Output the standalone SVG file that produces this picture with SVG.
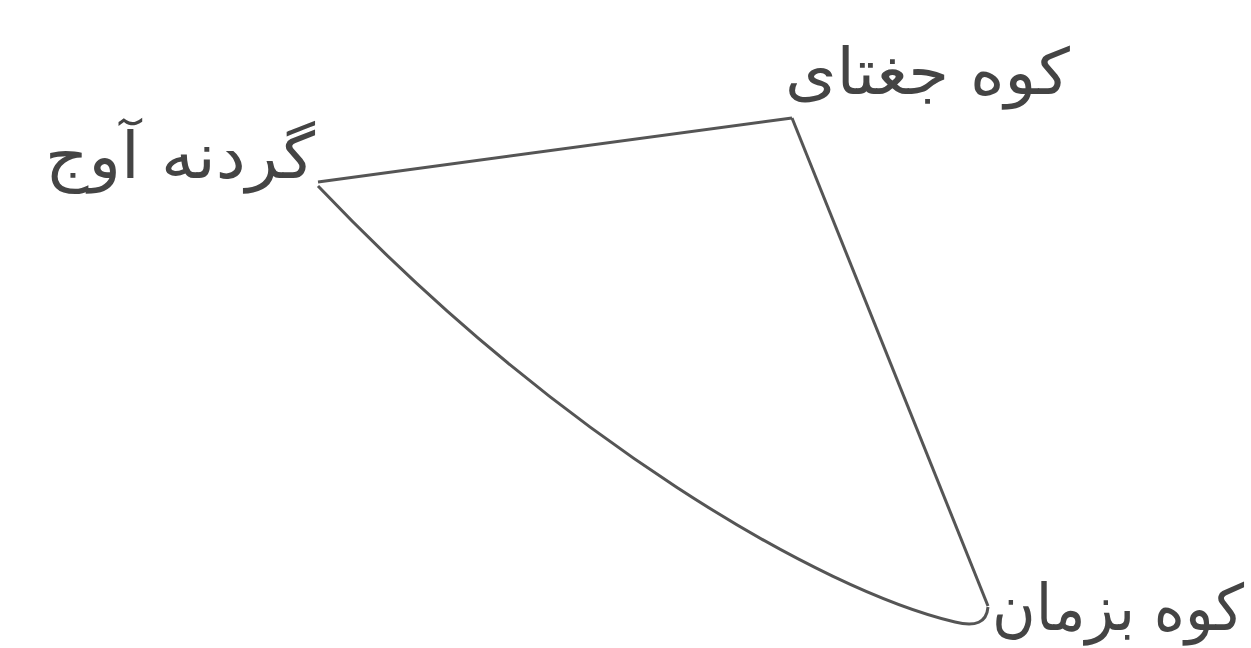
<svg xmlns="http://www.w3.org/2000/svg" width="1251" height="648" viewBox="0 0 1251 648">
<style>
.lbl{font-family:"DejaVu Sans","Noto Sans",sans-serif;font-size:64px;fill:#444}
.edge{fill:none;stroke:#555;stroke-width:3;stroke-linejoin:round}
</style>
<rect width="1251" height="648" fill="#fff"/>
<g id="connectors">
<path class="edge" d="M318,182 L792,118"/>
<path class="edge" d="M792,118 L988,606"/>
<path class="edge" d="M318,186 C560,440 820,590 955,622 Q986,630 988,607"/>
</g>
<g id="node-avaj"><text class="lbl" x="45" y="178" textLength="270" lengthAdjust="spacingAndGlyphs">گردنه آوج</text></g>
<g id="node-joghatay"><text class="lbl" x="785" y="94" textLength="285" lengthAdjust="spacingAndGlyphs">کوه جغتای</text></g>
<g id="node-bazman"><text class="lbl" x="992" y="630" textLength="252" lengthAdjust="spacingAndGlyphs">کوه بزمان</text></g>
</svg>
